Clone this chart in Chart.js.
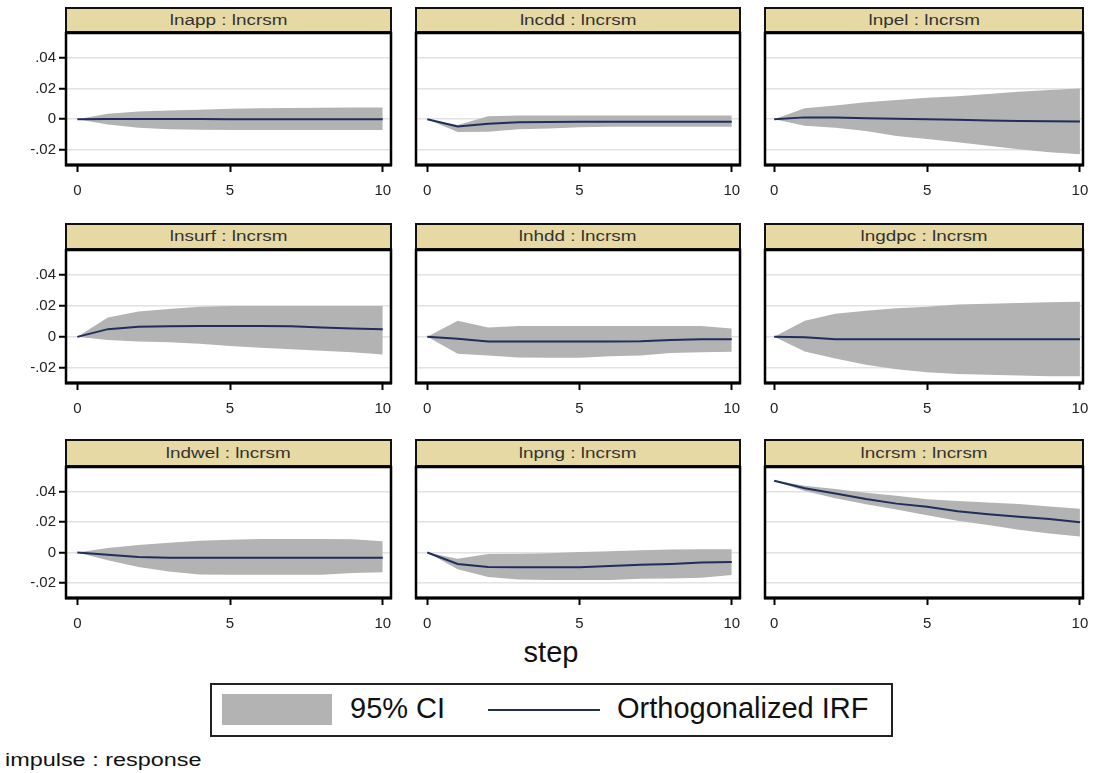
<!DOCTYPE html>
<html>
<head>
<meta charset="utf-8">
<script src="https://cdn.jsdelivr.net/npm/chart.js@4.4.1/dist/chart.umd.min.js"></script>
<style>
    body { margin: 0; background: #fff; font-family: "Liberation Sans", Arial, sans-serif; }
    #page { position: relative; width: 1094px; height: 773px; overflow: hidden; }
    canvas { position: absolute; }
    .strip {
        position: absolute; box-sizing: border-box;
        background: #e6d9a3; border: 2px solid #111; border-bottom-width: 3px;
        text-align: center; color: #333; font-size: 14px;
    }
    .strip span { display: inline-block; transform: scaleX(1.35); }
    .txt { position: absolute; color: #111; white-space: nowrap; }
</style>
</head>
<body>
<div id="page">
    <div class="txt" style="left:0;width:1102px;top:636px;text-align:center;font-size:29px;">step</div>
    <div style="position:absolute;left:210px;top:683px;width:683px;height:54px;box-sizing:border-box;border:2px solid #222;"></div>
    <div style="position:absolute;left:222px;top:694px;width:110px;height:31px;background:#b3b3b3;"></div>
    <div class="txt" style="left:350px;top:692px;font-size:29px;">95% CI</div>
    <div style="position:absolute;left:488px;top:709px;width:112px;height:2px;background:#1f2f5c;"></div>
    <div class="txt" style="left:617px;top:692px;font-size:29px;">Orthogonalized IRF</div>
    <div class="txt" style="left:5px;top:750px;font-size:18px;transform:scaleX(1.3);transform-origin:left;">impulse : response</div>
</div>
<script>
// data
const steps = [0, 1, 2, 3, 4, 5, 6, 7, 8, 9, 10];
const panelTitles = [
    'lnapp : lncrsm', 'lncdd : lncrsm', 'lnpel : lncrsm',
    'lnsurf : lncrsm', 'lnhdd : lncrsm', 'lngdpc : lncrsm',
    'lndwel : lncrsm', 'lnpng : lncrsm', 'lncrsm : lncrsm'
];
const irfValues = [
    [0, 0.0002, 0.0002, 0.0001, 0.0001, 0, 0, 0, 0, 0, 0],
    [0, -0.0048, -0.003, -0.002, -0.0018, -0.0017, -0.0017, -0.0017, -0.0017, -0.0017, -0.0017],
    [0, 0.0012, 0.0012, 0.0006, 0.0003, 0, -0.0004, -0.0009, -0.0012, -0.0014, -0.0015],
    [0, 0.005, 0.0065, 0.0068, 0.007, 0.007, 0.007, 0.0068, 0.006, 0.0055, 0.005],
    [0, -0.0012, -0.003, -0.003, -0.003, -0.003, -0.003, -0.0028, -0.002, -0.0016, -0.0015],
    [0, -0.0003, -0.0015, -0.0015, -0.0015, -0.0015, -0.0015, -0.0015, -0.0015, -0.0015, -0.0015],
    [0, -0.0015, -0.003, -0.0034, -0.0034, -0.0034, -0.0034, -0.0034, -0.0034, -0.0034, -0.0034],
    [0, -0.0075, -0.0095, -0.0097, -0.0097, -0.0097, -0.0088, -0.008, -0.0075, -0.0066, -0.0062],
    [0.0473, 0.0423, 0.0389, 0.0352, 0.0322, 0.0302, 0.0272, 0.0252, 0.0236, 0.0221, 0.02]
];
const ciLower = [
    [0, -0.0035, -0.0055, -0.0065, -0.0068, -0.007, -0.007, -0.007, -0.007, -0.007, -0.007],
    [0, -0.0083, -0.0082, -0.0066, -0.006, -0.0052, -0.005, -0.005, -0.005, -0.005, -0.005],
    [0, -0.0043, -0.0055, -0.0077, -0.011, -0.013, -0.015, -0.0174, -0.0196, -0.0215, -0.0228],
    [0, -0.002, -0.003, -0.0035, -0.0045, -0.006, -0.007, -0.008, -0.009, -0.01, -0.0115],
    [0, -0.011, -0.012, -0.0133, -0.0135, -0.0135, -0.0125, -0.012, -0.0105, -0.01, -0.0097],
    [0, -0.0095, -0.014, -0.018, -0.021, -0.023, -0.024, -0.0245, -0.025, -0.0255, -0.0255],
    [0, -0.005, -0.0095, -0.0125, -0.0145, -0.0146, -0.0146, -0.0146, -0.0146, -0.0135, -0.013],
    [0, -0.011, -0.016, -0.0178, -0.018, -0.018, -0.018, -0.0172, -0.017, -0.0165, -0.0148],
    [0.0472, 0.0405, 0.0357, 0.0318, 0.0284, 0.0245, 0.021, 0.0182, 0.015, 0.0125, 0.0105]
];
const ciUpper = [
    [0, 0.0035, 0.005, 0.0057, 0.0062, 0.0068, 0.0071, 0.0073, 0.0075, 0.0076, 0.0077],
    [0, -0.0038, 0.002, 0.0025, 0.0025, 0.0025, 0.0025, 0.0025, 0.0025, 0.0025, 0.0025],
    [0, 0.0072, 0.009, 0.011, 0.0126, 0.014, 0.015, 0.0165, 0.018, 0.019, 0.02],
    [0, 0.0125, 0.0165, 0.018, 0.0195, 0.02, 0.02, 0.02, 0.02, 0.02, 0.02],
    [0, 0.0105, 0.006, 0.007, 0.007, 0.007, 0.007, 0.007, 0.007, 0.007, 0.0055],
    [0, 0.0105, 0.015, 0.017, 0.0185, 0.0195, 0.021, 0.0215, 0.022, 0.0225, 0.0228],
    [0, 0.003, 0.005, 0.0065, 0.0078, 0.0085, 0.009, 0.009, 0.009, 0.0088, 0.0075],
    [0, -0.004, -0.001, -0.0008, -0.0005, 0.0003, 0.0008, 0.0015, 0.002, 0.0022, 0.0022],
    [0.0474, 0.044, 0.0418, 0.0393, 0.0373, 0.035, 0.034, 0.033, 0.032, 0.0303, 0.0289]
];
const xTicks = [0, 5, 10];
const yTicks = [-0.02, 0, 0.02, 0.04];
const yTickLabels = ['-.02', '0', '.02', '.04'];

// layout of the 3x3 grid (plot area edges)
const colLeft = [66, 416, 765];
const colRight = [391, 740, 1083];
const colXMin = [-0.37, -0.37, -0.3];
const colXMax = [10.27, 10.27, 10.1];
const stripTop = [7, 223, 439];
const rowTop = [33, 250, 467];
const rowBottom = [165, 383, 598];

const page = document.getElementById('page');

const framePlugin = {
    id: 'frame',
    afterDatasetsDraw(chart) {
        const a = chart.chartArea;
        const ctx = chart.ctx;
        ctx.save();
        ctx.strokeStyle = '#000';
        ctx.lineWidth = 2.5;
        ctx.strokeRect(a.left, a.top, a.right - a.left, a.bottom - a.top);
        ctx.lineWidth = 3;
        ctx.beginPath();
        ctx.moveTo(a.left - 1, a.bottom);
        ctx.lineTo(a.right + 1, a.bottom);
        ctx.stroke();
        ctx.restore();
    }
};

function toPoints(values) {
    return steps.map((s, i) => ({ x: s, y: values[i] }));
}

// fixed axis size, no extra room for overhanging labels
function fixSize(s, w, h) {
    if (w !== null) s.width = w;
    if (h !== null) s.height = h;
    s.paddingTop = 0;
    s.paddingBottom = 0;
    s.paddingLeft = 0;
    s.paddingRight = 0;
}

function drawPanel(p) {
    const col = p % 3;
    const row = Math.floor(p / 3);
    const yW = col === 0 ? 66 : 3;
    const xH = 42;
    const padTop = 3;
    const padRight = 11;
    const w = yW + (colRight[col] - colLeft[col]) + padRight;
    const h = padTop + (rowBottom[row] - rowTop[row]) + xH;

    const strip = document.createElement('div');
    strip.className = 'strip';
    strip.style.left = (colLeft[col] - 1) + 'px';
    strip.style.width = (colRight[col] - colLeft[col] + 2) + 'px';
    strip.style.top = stripTop[row] + 'px';
    strip.style.height = (rowTop[row] - stripTop[row] + 1) + 'px';
    strip.style.lineHeight = (rowTop[row] - stripTop[row] - 4) + 'px';
    strip.innerHTML = '<span>' + panelTitles[p] + '</span>';
    page.appendChild(strip);

    const canvas = document.createElement('canvas');
    canvas.width = w;
    canvas.height = h;
    canvas.style.left = (colLeft[col] - yW) + 'px';
    canvas.style.top = (rowTop[row] - padTop) + 'px';
    page.appendChild(canvas);

    const tickFont = { family: 'Liberation Sans', size: 15 };

    new Chart(canvas, {
        type: 'line',
        data: {
            datasets: [
                {
                    label: 'Orthogonalized IRF',
                    data: toPoints(irfValues[p]),
                    borderColor: '#1f2f5c',
                    borderWidth: 2,
                    pointRadius: 0,
                    fill: false
                },
                {
                    label: 'lower',
                    data: toPoints(ciLower[p]),
                    borderWidth: 0,
                    borderColor: 'rgba(0,0,0,0)',
                    pointRadius: 0,
                    fill: false
                },
                {
                    label: '95% CI',
                    data: toPoints(ciUpper[p]),
                    borderWidth: 0,
                    borderColor: 'rgba(0,0,0,0)',
                    backgroundColor: '#b3b3b3',
                    pointRadius: 0,
                    fill: '-1'
                }
            ]
        },
        options: {
            responsive: false,
            animation: false,
            events: [],
            layout: { padding: { top: padTop, right: padRight, left: 0, bottom: 0 } },
            plugins: {
                legend: { display: false },
                tooltip: { enabled: false }
            },
            scales: {
                x: {
                    type: 'linear',
                    min: colXMin[col],
                    max: colXMax[col],
                    afterBuildTicks: s => { s.ticks = xTicks.map(v => ({ value: v })); },
                    afterFit: s => fixSize(s, null, xH),
                    border: { display: false },
                    grid: {
                        drawOnChartArea: false,
                        drawTicks: true,
                        tickLength: 7,
                        tickWidth: 2,
                        tickColor: '#000'
                    },
                    ticks: {
                        autoSkip: false,
                        maxRotation: 0,
                        padding: 10,
                        color: '#222',
                        font: tickFont,
                        callback: v => String(v)
                    }
                },
                y: {
                    min: -0.0299,
                    max: 0.0563,
                    afterBuildTicks: s => { s.ticks = yTicks.map(v => ({ value: v })); },
                    afterFit: s => fixSize(s, yW, null),
                    border: { display: false },
                    grid: {
                        color: '#e2e2e2',
                        lineWidth: 1.5,
                        drawTicks: col === 0,
                        tickLength: 7,
                        tickWidth: 2,
                        tickColor: '#000'
                    },
                    ticks: {
                        display: col === 0,
                        autoSkip: false,
                        padding: 3,
                        color: '#222',
                        font: tickFont,
                        callback: (v, i) => yTickLabels[i]
                    }
                }
            }
        },
        plugins: [framePlugin]
    });
}

document.addEventListener('DOMContentLoaded', () => {
    for (let p = 0; p < panelTitles.length; p++) drawPanel(p);
});
</script>
</body>
</html>
